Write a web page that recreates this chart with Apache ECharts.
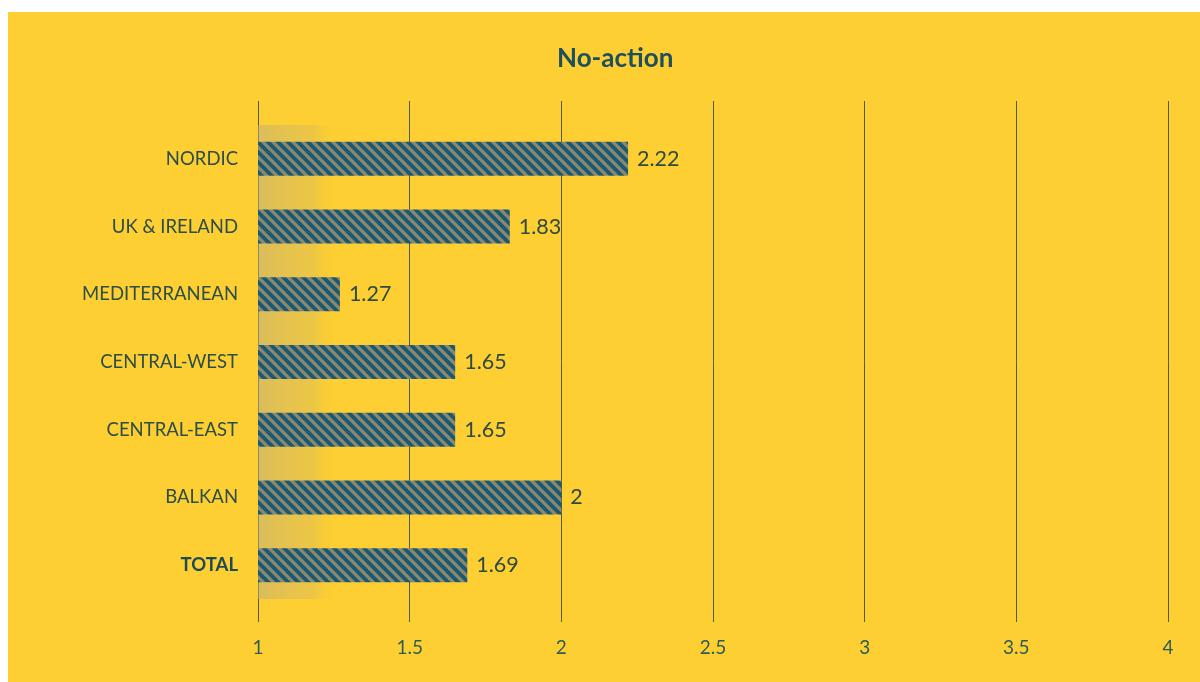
<!DOCTYPE html>
<html>
<head>
<meta charset="utf-8">
<script src="https://cdn.jsdelivr.net/npm/echarts@6/dist/echarts.min.js"></script>
<style>
html,body{margin:0;padding:0;background:#ffffff;}
#wrap{position:absolute;left:0;top:0;width:1200px;height:682px;background:#ffffff;}
#chart{position:absolute;left:8px;top:12px;width:1192px;height:670px;background:#FDCF33;}
</style>
</head>
<body>
<div id="wrap"><div id="chart"></div></div>
<script>
const titleText = "No-action";
const categories = ["NORDIC", "UK & IRELAND", "MEDITERRANEAN", "CENTRAL-WEST", "CENTRAL-EAST", "BALKAN", "TOTAL"];
const values = [2.22, 1.83, 1.27, 1.65, 1.65, 2, 1.69];
const xTicks = [1, 1.5, 2, 2.5, 3, 3.5, 4];
const shadeRange = [1, 1.25];

// hatch pattern
function makeHatch() {
  const s = 10;
  const c = document.createElement('canvas');
  c.width = s; c.height = s;
  const ctx = c.getContext('2d');
  ctx.fillStyle = '#8A8970';
  ctx.fillRect(0, 0, s, s);
  ctx.strokeStyle = '#1B5872';
  ctx.lineWidth = 3.8;
  for (let k = -1; k <= 1; k++) {
    ctx.beginPath();
    ctx.moveTo(k * s - 3, -3);
    ctx.lineTo(k * s + s + 3, s + 3);
    ctx.stroke();
  }
  return c;
}
const hatch = makeHatch();

const chart = echarts.init(document.getElementById('chart'));
const font = 'Lato, "Noto Sans", sans-serif';
chart.setOption({
  backgroundColor: 'transparent',
  animation: false,
  title: {
    text: titleText,
    left: 544,
    top: 29,
    textStyle: {fontFamily: font, fontSize: 26, fontWeight: 'bold', color: '#1D4F5C'}
  },
  grid: [
    {left: 250, right: 32, top: 113, bottom: 83},
    {left: 250, right: 32, top: 89, bottom: 60}
  ],
  xAxis: [
    {gridIndex: 0, type: 'value', min: 1, max: 4, interval: 0.5, show: false},
    {gridIndex: 1, type: 'value', min: 1, max: 4, interval: 0.5,
     axisLine: {show: false}, axisTick: {show: false},
     splitLine: {show: true, lineStyle: {color: '#4F5B4C', width: 1}},
     axisLabel: {fontFamily: font, fontSize: 19, color: '#2E5C55', margin: 16}}
  ],
  yAxis: [
    {gridIndex: 0, type: 'category', data: categories, inverse: true,
     axisLine: {show: false}, axisTick: {show: false}, splitLine: {show: false},
     axisLabel: {margin: 20, fontFamily: font, fontSize: 18.5, color: '#2C4D48',
       formatter: function (v) { return v === 'TOTAL' ? '{b|' + v + '}' : v; },
       rich: {b: {fontFamily: font, fontSize: 18.5, fontWeight: 'bold', color: '#1D4B55'}}}},
    {gridIndex: 1, type: 'value', min: 0, max: 1, show: false}
  ],
  series: [
    {
      type: 'bar',
      xAxisIndex: 0, yAxisIndex: 0,
      data: values,
      barWidth: 34,
      itemStyle: {color: {image: hatch, repeat: 'repeat'}},
      label: {show: true, position: 'right', distance: 9, fontFamily: font, fontSize: 21.5, color: '#2F4A40'},
      markArea: {
        silent: true,
        itemStyle: {
          color: new echarts.graphic.LinearGradient(0, 0, 1, 0, [
            {offset: 0, color: 'rgba(190,175,125,0.55)'},
            {offset: 0.75, color: 'rgba(200,180,110,0.3)'},
            {offset: 1, color: 'rgba(253,207,51,0)'}
          ])
        },
        data: [[{xAxis: shadeRange[0]}, {xAxis: shadeRange[1]}]]
      }
    }
  ]
});
</script>
</body>
</html>
